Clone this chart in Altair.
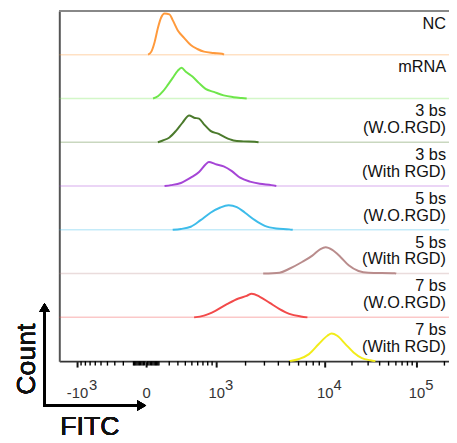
import altair as alt
import pandas as pd

# ---------------- data ----------------
ROW_LABELS = [["NC"], ["mRNA"], ["3 bs", "(W.O.RGD)"], ["3 bs", "(With RGD)"],
              ["5 bs", "(W.O.RGD)"], ["5 bs", "(With RGD)"],
              ["7 bs", "(W.O.RGD)"], ["7 bs", "(With RGD)"]]
ROW_COLORS = ["#ff9a3c", "#6ee64a", "#4b7a2c", "#a545d6",
              "#3dbcea", "#b98c8c", "#f24a4a", "#f2ec1a"]

NC_X = [14, 38, 64, 91, 120, 152, 202, 238, 297, 385, 482, 594, 721, 941, 1158, 1215]
NC_COUNT = [0, 7, 29, 61, 85, 94, 92, 79, 56, 38, 22, 13, 7, 4, 2, 0]

MRNA_X = [51, 91, 136, 185, 238, 297, 348, 407, 509, 625, 753, 941, 1206, 1525, 1838, 2051]
MRNA_COUNT = [0, 5, 16, 31, 47, 63, 70, 61, 50, 35, 22, 15, 7, 3, 1, 0]

B3_WO_X = [91, 136, 202, 276, 361, 457, 537, 625, 721, 862, 1068, 1253, 1525, 1909, 2451, 2650]
B3_WO_COUNT = [0, 4, 11, 26, 45, 61, 56, 54, 41, 26, 19, 11, 4, 2, 1, 0]

B3_W_X = [152, 220, 339, 482, 625, 753, 826, 980, 1206, 1467, 1770, 2203, 2723, 3467, 3837]
B3_W_COUNT = [0, 2, 7, 19, 32, 49, 55, 50, 45, 34, 19, 10, 5, 2, 0]

B5_WO_X = [238, 339, 482, 654, 862, 1111, 1358, 1644, 1977, 2451, 3022, 3837, 4994, 5341]
B5_WO_COUNT = [0, 2, 7, 22, 39, 51, 56, 52, 39, 22, 9, 3, 1, 0]

B5_W_X = [2923, 4101, 4994, 6483, 7869, 9212, 10256, 12143, 14952, 18391, 23579, 30203, 58294, 60500]
B5_W_COUNT = [0, 2, 11, 27, 41, 56, 60, 54, 38, 19, 6, 2, 1, 0]

B7_WO_X = [537, 721, 980, 1305, 1708, 2051, 2285, 2723, 3349, 4101, 4994, 6272, 7144]
B7_WO_COUNT = [0, 4, 15, 30, 43, 49, 54, 47, 33, 19, 8, 2, 0]

B7_W_X = [4994, 6068, 7369, 8916, 10706, 11932, 13767, 16941, 20826, 25652, 31869, 35997]
B7_W_COUNT = [0, 5, 16, 39, 58, 63, 58, 39, 20, 7, 2, 0]

CURVES_X = [NC_X, MRNA_X, B3_WO_X, B3_W_X, B5_WO_X, B5_W_X, B7_WO_X, B7_W_X]
CURVES_COUNT = [NC_COUNT, MRNA_COUNT, B3_WO_COUNT, B3_W_COUNT,
                B5_WO_COUNT, B5_W_COUNT, B7_WO_COUNT, B7_W_COUNT]

MAJOR_TICKS = [-1000, 0, 1000, 10000, 100000]
TICK_BASES = ["-10", "0", "10", "10", "10"]
TICK_EXPONENTS = ["3", "", "3", "4", "5"]
MINOR_TICKS = ([-900, -800, -700, -600, -500, -400, -300, -200, -100]
               + [-90, -80, -70, -60, -50, -40, -30, -20, -10]
               + [10, 20, 30, 40, 50, 60, 70, 80, 90]
               + [100, 200, 300, 400, 500, 600, 700, 800, 900]
               + [2000, 3000, 4000, 5000, 6000, 7000, 8000, 9000]
               + [20000, 30000, 40000, 50000, 60000, 70000, 80000, 90000]
               + [200000])

X_TITLE = "FITC"
Y_TITLE = "Count"

# ---------------- layout / styling ----------------
W, H = 395, 355
ROW_SPAN = 100
N = len(ROW_LABELS)
FONT = "Liberation Sans"

names = [" ".join(l) for l in ROW_LABELS]

XS = alt.Scale(type="symlog", constant=370,
               domain=[-1548, -1000, 0, 1000, 10000, 100000, 224000],
               range=[0, 18, 88, 159, 269, 362, W], nice=False, zero=False)
YS = alt.Scale(domain=[0, N * ROW_SPAN], nice=False, zero=False)
CS = alt.Scale(domain=names, range=ROW_COLORS)

label_expr = ""
for v, b in zip(MAJOR_TICKS, TICK_BASES):
    label_expr += f"datum.value == {v} ? '{b}' : "
label_expr += "''"

XAXIS = alt.Axis(values=MAJOR_TICKS, labelExpr=label_expr, title=None, grid=False,
                 tickSize=6, tickWidth=2, tickColor="#111", domainColor="#333",
                 domainWidth=2, labelFont=FONT, labelFontSize=15, labelColor="#333",
                 labelPadding=19, labelFlush=False, labelOverlap=False)
YAXIS = alt.Axis(labels=False, ticks=False, grid=False, title=None,
                 domainColor="#555", domainWidth=2)

recs = []
for i, (xs, cs) in enumerate(zip(CURVES_X, CURVES_COUNT)):
    base = (N - 1 - i) * ROW_SPAN
    for x, c in zip(xs, cs):
        recs.append({"sample": names[i], "x": x, "y": base + c})
curves_df = pd.DataFrame(recs)

base_df = pd.DataFrame({"sample": names[:-1],
                        "y": [(N - 1 - i) * ROW_SPAN for i in range(N - 1)]})
label_df = pd.DataFrame({"sample": names,
                         "text": ["\n".join(l) for l in ROW_LABELS],
                         "y": [(N - i) * ROW_SPAN for i in range(N)]})
minor_df = pd.DataFrame({"x": MINOR_TICKS})
exp_df = pd.DataFrame({"x": MAJOR_TICKS, "exp": TICK_EXPONENTS})
exp_pos = exp_df[(exp_df["x"] > 0)]
exp_neg = exp_df[(exp_df["x"] < 0)]

baselines = alt.Chart(base_df).mark_rule(strokeWidth=1.5, opacity=0.3).encode(
    y=alt.Y("y:Q", scale=YS, axis=YAXIS), x=alt.value(0), x2=alt.value(W),
    color=alt.Color("sample:N", scale=CS, legend=None))

lines = alt.Chart(curves_df).mark_line(strokeWidth=2, interpolate="monotone").encode(
    x=alt.X("x:Q", scale=XS, axis=XAXIS),
    y=alt.Y("y:Q", scale=YS, axis=YAXIS),
    color=alt.Color("sample:N", scale=CS, legend=None),
    detail="sample:N")

labels = alt.Chart(label_df).mark_text(
    align="right", baseline="alphabetic", dx=-3, dy=18, lineBreak="\n",
    lineHeight=17, fontSize=16.5, font=FONT, color="#111").encode(
    x=alt.value(W), y=alt.Y("y:Q", scale=YS, axis=YAXIS), text="text:N")

minor = alt.Chart(minor_df).mark_rule(color="#000", strokeWidth=1.4).encode(
    x=alt.X("x:Q", scale=XS, axis=XAXIS), y=alt.value(H), y2=alt.value(H + 4.5))

exp_p = alt.Chart(exp_pos).mark_text(align="left", baseline="alphabetic", dx=9,
                                     fontSize=15, font=FONT, color="#333").encode(
    x=alt.X("x:Q", scale=XS, axis=XAXIS), y=alt.value(H + 29), text="exp:N")
exp_n = alt.Chart(exp_neg).mark_text(align="left", baseline="alphabetic", dx=12,
                                     fontSize=15, font=FONT, color="#333").encode(
    x=alt.X("x:Q", scale=XS, axis=XAXIS), y=alt.value(H + 29), text="exp:N")

top_border = alt.Chart(base_df).mark_rule(color="#888", strokeWidth=2).encode(
    x=alt.value(0), x2=alt.value(W), y=alt.value(0))

arrow_v = alt.Chart(base_df).mark_rule(color="black", strokeWidth=2).encode(
    x=alt.value(-15), y=alt.value(401), y2=alt.value(302))
arrow_h = alt.Chart(base_df).mark_rule(color="black", strokeWidth=2).encode(
    x=alt.value(-16), x2=alt.value(84), y=alt.value(400))
head_v = alt.Chart(base_df).mark_point(shape="triangle-up", filled=True, size=110,
                                       color="black", opacity=1).encode(
    x=alt.value(-15), y=alt.value(300.5))
head_h = alt.Chart(base_df).mark_point(shape="triangle-right", filled=True, size=110,
                                       color="black", opacity=1).encode(
    x=alt.value(83.5), y=alt.value(400))
count_t = alt.Chart(base_df).mark_text(angle=270, align="center", baseline="alphabetic",
                                       fontSize=27, font=FONT, color="#111").encode(
    x=alt.value(-25), y=alt.value(353), text=alt.value(Y_TITLE))
fitc_t = alt.Chart(base_df).mark_text(align="center", baseline="alphabetic",
                                      fontSize=27, font=FONT, color="#111").encode(
    x=alt.value(31), y=alt.value(430), text=alt.value(X_TITLE))

chart = alt.layer(baselines, lines, labels, minor, exp_p, exp_n, top_border,
                  arrow_v, arrow_h, head_v, head_h, count_t, fitc_t).properties(
    width=W, height=H,
    padding={"left": 52, "top": 0, "right": 0, "bottom": 78},
    autosize=alt.AutoSizeParams(type="none"),
    background="white",
).configure_view(stroke=None)

chart.save("out.html", embed_options={"renderer": "svg", "actions": False})
